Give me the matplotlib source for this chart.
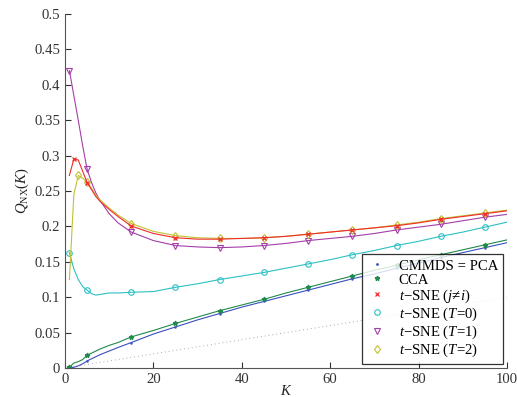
import numpy as np
import matplotlib
matplotlib.use('Agg')
import matplotlib.pyplot as plt
from matplotlib.lines import Line2D

plt.rcParams['font.family'] = ['Liberation Serif', 'DejaVu Serif']
plt.rcParams['mathtext.fontset'] = 'custom'
plt.rcParams['mathtext.rm'] = 'Liberation Serif'
plt.rcParams['mathtext.it'] = 'Liberation Serif:italic'

# neighbourhood sizes
K = [1, 2, 3, 4, 5, 6, 7, 8, 10, 12, 15, 20, 25, 30, 35, 40, 45, 50,
     55, 60, 65, 70, 75, 80, 85, 90, 95, 100]

cmmds = [0.000, 0.001, 0.003, 0.006, 0.010, 0.013, 0.016, 0.019, 0.024, 0.029,
         0.036, 0.048, 0.058, 0.068, 0.077, 0.086, 0.094, 0.102, 0.110, 0.118,
         0.126, 0.133, 0.141, 0.148, 0.156, 0.163, 0.170, 0.177]
cca = [0.001, 0.007, 0.009, 0.012, 0.018, 0.021, 0.024, 0.027, 0.032, 0.036,
       0.044, 0.053, 0.063, 0.072, 0.081, 0.089, 0.097, 0.106, 0.114, 0.122,
       0.130, 0.138, 0.145, 0.153, 0.160, 0.167, 0.174, 0.181]
tsne_ji = [0.272, 0.295, 0.294, 0.278, 0.262, 0.252, 0.242, 0.235, 0.224, 0.214,
           0.2005, 0.190, 0.184, 0.182, 0.182, 0.183, 0.184, 0.186, 0.189, 0.192,
           0.195, 0.198, 0.201, 0.205, 0.210, 0.214, 0.218, 0.222]
tsne_t0 = [0.163, 0.140, 0.125, 0.115, 0.110, 0.105, 0.103, 0.104, 0.106, 0.106,
           0.107, 0.108, 0.114, 0.119, 0.125, 0.130, 0.135, 0.141, 0.147, 0.153,
           0.160, 0.166, 0.173, 0.179, 0.186, 0.192, 0.199, 0.206]
tsne_t1 = [0.420, 0.385, 0.350, 0.314, 0.281, 0.262, 0.247, 0.236, 0.218, 0.205,
           0.192, 0.180, 0.173, 0.171, 0.170, 0.171, 0.173, 0.176, 0.180, 0.183,
           0.186, 0.190, 0.195, 0.199, 0.203, 0.208, 0.213, 0.217]
tsne_t2 = [0.125, 0.245, 0.272, 0.268, 0.263, 0.254, 0.244, 0.237, 0.226, 0.216,
           0.204, 0.193, 0.187, 0.184, 0.183, 0.183, 0.184, 0.186, 0.189, 0.192,
           0.195, 0.198, 0.202, 0.206, 0.211, 0.215, 0.219, 0.223]

# random baseline (dotted)
base_K = [0, 100]
base_q = [0.0, 0.1]

marks_a = [1, 5, 15, 25, 35, 45, 55, 65, 75, 85, 95]
marks_red = [2, 5, 15, 25, 35, 45, 55, 65, 75, 85, 95]
marks_yel = [3, 5, 15, 25, 35, 45, 55, 65, 75, 85, 95]

labels = ['CMMDS = PCA', 'CCA', '$t$\u2212SNE ($j$\u2260$i$)',
          '$t$\u2212SNE ($T$=0)', '$t$\u2212SNE ($T$=1)', '$t$\u2212SNE ($T$=2)']

c_blue = '#3a4fc0'
c_green = '#1f8a4c'
c_red = '#f22a2a'
c_cyan = '#2cc0c4'
c_purple = '#a43ea8'
c_yel = '#c2c232'

def idx(marks):
    return [K.index(m) for m in marks]

fig = plt.figure(figsize=(5.17, 3.97), dpi=100)
ax = fig.add_axes([0.1257, 0.0730, 0.855, 0.8917])

ax.plot(base_K, base_q, ls=(0, (1, 3)), color='#aaaaaa', lw=0.7)
ax.plot(K, cmmds, color=c_blue, lw=0.8, marker='.', ms=1.5, markevery=idx(marks_a))
ax.plot(K, cca, color=c_green, lw=0.8, marker='*', ms=3.5, markevery=idx(marks_a))
ax.plot(K, tsne_t0, color=c_cyan, lw=0.8, marker='o', ms=4, mew=0.8, mfc='none',
        markevery=idx(marks_a))
ax.plot(K, tsne_t1, color=c_purple, lw=0.8, marker='v', ms=4.5, mew=0.8, mfc='none',
        markevery=idx(marks_a))
ax.plot(K, tsne_t2, color=c_yel, lw=0.8, marker='d', ms=4.5, mew=0.8, mfc='none',
        markevery=idx(marks_yel))
ax.plot(K, tsne_ji, color=c_red, lw=0.8, marker='x', ms=2.5, mew=0.9,
        markevery=idx(marks_red))

ax.set_xlim(0, 100)
ax.set_ylim(0, 0.5)
ax.set_xticks(np.arange(0, 101, 20))
ax.set_yticks(np.arange(0, 0.501, 0.05))
ax.set_yticklabels(['0', '0.05', '0.1', '0.15', '0.2', '0.25', '0.3', '0.35',
                    '0.4', '0.45', '0.5'])
ax.tick_params(direction='in', length=4, labelsize=10.6, colors='#333333', width=0.8)
for s in ['top', 'right']:
    ax.spines[s].set_visible(False)
for s in ['left', 'bottom']:
    ax.spines[s].set_color('#555555')
    ax.spines[s].set_linewidth(0.8)

ax.set_xlabel('$K$', fontsize=10.6, labelpad=-1, color='#222222')
ax.set_ylabel('$Q_{\\mathrm{NX}}(K)$', fontsize=10.6, labelpad=2, color='#222222')

handles = [
    Line2D([], [], ls='none', marker='.', ms=2, color=c_blue),
    Line2D([], [], ls='none', marker='*', ms=3.5, color=c_green),
    Line2D([], [], ls='none', marker='x', ms=2.5, mew=0.9, color=c_red),
    Line2D([], [], ls='none', marker='o', ms=4, mew=0.8, mfc='none', color=c_cyan),
    Line2D([], [], ls='none', marker='v', ms=4.5, mew=0.8, mfc='none', color=c_purple),
    Line2D([], [], ls='none', marker='d', ms=4.5, mew=0.8, mfc='none', color=c_yel),
]
leg = ax.legend(handles, labels, loc='lower right', bbox_to_anchor=(0.991, 0.011),
                fontsize=10.6, frameon=True, fancybox=False, labelspacing=0.05,
                handlelength=1.3, handletextpad=0.8, borderpad=0.35, borderaxespad=0)
leg.get_frame().set_edgecolor('black')
leg.get_frame().set_linewidth(0.9)

fig.savefig('out.png', dpi=100)
